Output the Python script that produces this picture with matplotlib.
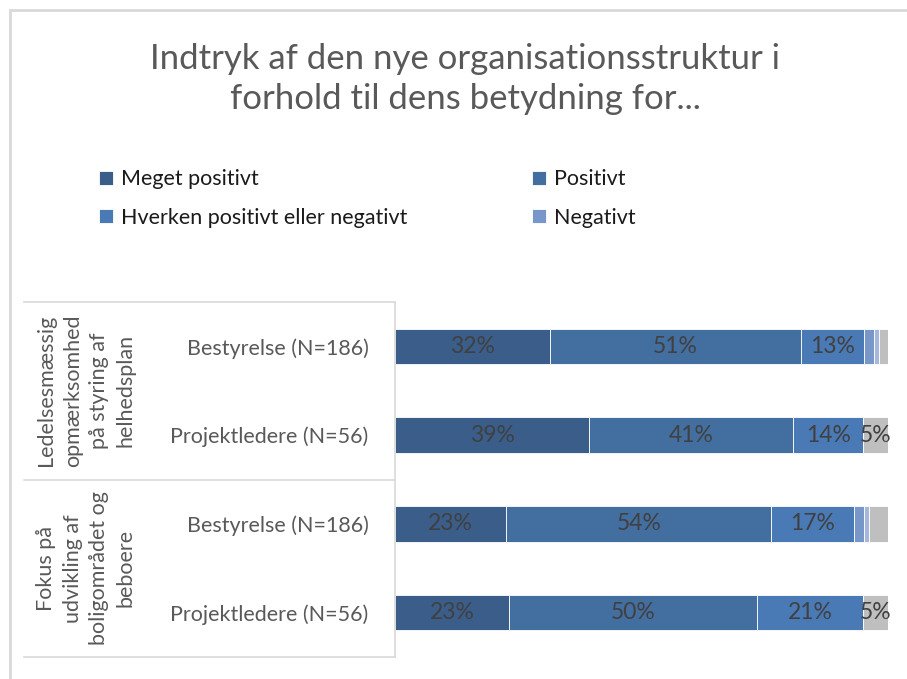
import matplotlib
matplotlib.use("Agg")
import matplotlib.pyplot as plt
import matplotlib.transforms as mtrans
from matplotlib.lines import Line2D
from matplotlib.patches import Rectangle

plt.rcParams['font.family'] = ['Lato', 'DejaVu Sans']

# data (percent)
groups = ["Ledelsesmæssig\nopmærksomhed\npå styring af\nhelhedsplan",
          "Fokus på\nudvikling af\nboligområdet og\nbeboere"]
categories = ["Bestyrelse (N=186)", "Projektledere (N=56)",
              "Bestyrelse (N=186)", "Projektledere (N=56)"]
series = ["Meget positivt", "Positivt", "Hverken positivt eller negativt",
          "Negativt", "Meget negativt", "Ved ikke"]
meget_positivt = [31.5, 39.4, 22.6, 23.1]
positivt = [50.8, 41.3, 53.7, 50.4]
hverken = [12.9, 14.3, 16.8, 21.4]
negativt = [2.0, 0.0, 2.0, 0.0]
meget_negativt = [1.0, 0.0, 1.0, 0.0]
ved_ikke = [1.8, 5.0, 3.9, 5.1]

values = [meget_positivt, positivt, hverken, negativt, meget_negativt, ved_ikke]
colors = ["#3A5D8A", "#436EA0", "#4A7AB6", "#7897C8", "#A5B8DB", "#BFBFBF"]

W, H = 907, 679
fig = plt.figure(figsize=(W / 100, H / 100), dpi=100)

# outer chart frame
fig.patches.append(Rectangle((10 / W, -0.1), 1.2, 1 - 10 / H + 0.1,
                             transform=fig.transFigure, fill=False,
                             edgecolor="#D9D9D9", linewidth=2))

ax = fig.add_axes([395 / W, 1 - 657 / H, (888 - 395) / W, (657 - 302) / H])

y = list(range(len(categories)))
left = [0] * len(categories)
for name, vals, col in zip(series, values, colors):
    bars = ax.barh(y, vals, left=left, height=0.4, color=col,
                   edgecolor="white", linewidth=0.6, label=name)
    for b, v in zip(bars, vals):
        if v >= 4.5:
            ax.text(b.get_x() + b.get_width() / 2, b.get_y() + b.get_height() / 2,
                    f"{v:.0f}%", ha="center", va="center", fontsize=16.5,
                    color="#404040")
    left = [l + v for l, v in zip(left, vals)]

ax.set_xlim(0, 100)
ax.set_ylim(len(categories) - 0.5, -0.5)
ax.set_xticks([])
ax.set_yticks(y)
ax.set_yticklabels(categories, fontsize=15.5, color="#595959")
ax.tick_params(axis="y", length=0, pad=19)
for s in ["top", "right", "bottom"]:
    ax.spines[s].set_visible(False)
ax.spines["left"].set_color("#D9D9D9")
ax.spines["left"].set_linewidth(1.2)

# table lines and group labels on the left
blend = mtrans.blended_transform_factory(ax.transAxes, ax.transData)
x0 = (24 - 395) / (888 - 395)
for yy in [-0.5, 1.5, 3.5]:
    ax.add_line(Line2D([x0, 0], [yy, yy], color="#D9D9D9", linewidth=1.2,
                       clip_on=False, transform=blend))
xg = (86 - 395) / (888 - 395)
for gi, g in enumerate(groups):
    ax.text(xg, gi * 2 + 0.5, g, rotation=90, ha="center", va="center",
            fontsize=15.5, color="#595959", linespacing=1.4,
            transform=blend, multialignment="center")

fig.text(465 / W, 1 - 79 / H, "Indtryk af den nye organisationsstruktur i\nforhold til dens betydning for...",
         ha="center", va="center", fontsize=25, color="#595959",
         linespacing=1.3)

handles, labels = ax.get_legend_handles_labels()
order = [0, 2, 1, 3]
fig.legend([handles[i] for i in order], [labels[i] for i in order],
           loc="upper left", bbox_to_anchor=(80 / W, 1 - 150 / H),
           ncol=2, frameon=False, fontsize=15.5, handlelength=0.65, handleheight=0.65,
           handletextpad=0.35, columnspacing=5.8, labelspacing=0.85,
           labelcolor="#1a1a1a")

fig.savefig("out.png", dpi=100)
